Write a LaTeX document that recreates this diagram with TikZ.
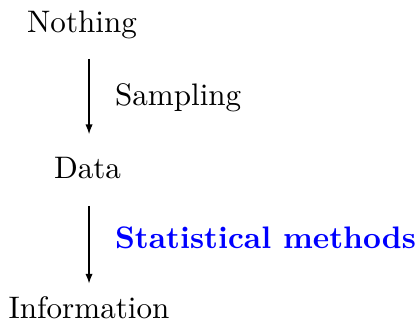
\documentclass[tikz,border=0pt]{standalone}
\usepackage{xcolor}
\usepackage{tikz}
\usetikzlibrary{arrows.meta,positioning,calc}
\tikzset{
  sstage/.style={anchor=base,inner sep=3.33pt},
  sflow/.style={-{Latex[length=3.2pt,width=2.4pt]},thin},
  slabel/.style={midway,right,xshift=5pt},
}

\begin{document}
\begin{tikzpicture}[x=1pt,y=1pt,every node/.style={font=\fontsize{10.2pt}{12pt}\selectfont}]
\useasboundingbox (0,0) rectangle (137.4,-106.6);
\node[sstage] (nothing) at (26.9,-10.5) {Nothing};
\node[sstage] (data) at (28.7,-58.4) {Data};
\node[sstage] (info) at (29.2,-104.6) {Information};
\draw[sflow,shorten <=3.2pt,shorten >=3.9pt] (info.north |- nothing.south) -- (info.north |- data.north)
  node[slabel] (samp) {Sampling};
\draw[sflow,shorten <=5.5pt,shorten >=0.9pt] (info.north |- data.south) -- (info.north)
  node[slabel,text=blue] (stat) {\bfseries Statistical methods};
\end{tikzpicture}
\end{document}
